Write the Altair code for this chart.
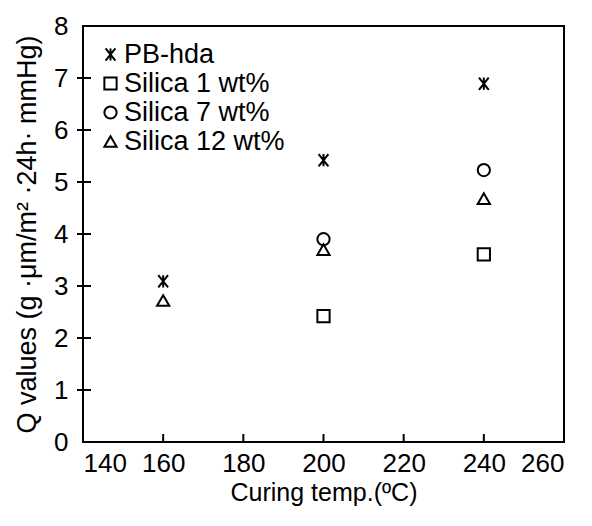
import altair as alt
import pandas as pd

series = ["PB-hda", "Silica 1 wt%", "Silica 7 wt%", "Silica 12 wt%"]
temps_pb = [160, 200, 240]
vals_pb = [3.09, 5.42, 6.89]
temps_s1 = [200, 240]
vals_s1 = [2.42, 3.61]
temps_s7 = [200, 240]
vals_s7 = [3.90, 5.23]
temps_s12 = [160, 200, 240]
vals_s12 = [2.72, 3.70, 4.68]

x_ticks = [140, 160, 180, 200, 220, 240, 260]
y_ticks = [0, 1, 2, 3, 4, 5, 6, 7, 8]

rows = []
for name, ts, vs in [
    (series[0], temps_pb, vals_pb),
    (series[1], temps_s1, vals_s1),
    (series[2], temps_s7, vals_s7),
    (series[3], temps_s12, vals_s12),
]:
    for t, v in zip(ts, vs):
        rows.append({"series": name, "temp": t, "q": v})
df = pd.DataFrame(rows)

star = "M-0.8,-1L0.8,1M-0.8,1L0.8,-1M0,-1L0,1"
shapes = [star, "square", "circle", "triangle-up"]

FONT = "Liberation Sans"
H = 416

xscale = alt.Scale(domain=[140, 260], nice=False, zero=False)
yscale = alt.Scale(domain=[0, 8], nice=False)

points = alt.Chart(df).mark_point(filled=False, color="black", strokeWidth=2, size=150, opacity=1).encode(
    x=alt.X("temp:Q", scale=xscale,
            axis=alt.Axis(title="Curing temp.(ºC)", values=x_ticks, ticks=False, domain=False, grid=False,
                          labelFontSize=26, labelPadding=8, titleFontSize=25, titlePadding=4,
                          titleFontWeight="normal", labelFont=FONT, titleFont=FONT,
                          labelColor="black", titleColor="black")),
    y=alt.Y("q:Q", scale=yscale,
            axis=alt.Axis(title="Q values (g ·μm/m² ·24h· mmHg)", values=y_ticks, ticks=False, domain=False,
                          grid=False, labelFontSize=26, labelPadding=15, titleFontSize=27, titlePadding=12,
                          titleFontWeight="normal", labelFont=FONT, titleFont=FONT,
                          labelColor="black", titleColor="black")),
    shape=alt.Shape("series:N", scale=alt.Scale(domain=series, range=shapes),
                    legend=alt.Legend(title=None, orient="none", legendX=14, legendY=15,
                                      labelFontSize=27, labelFont=FONT, labelColor="black", labelLimit=0,
                                      symbolSize=150, symbolStrokeWidth=2, symbolStrokeColor="black",
                                      symbolFillColor="transparent", symbolType="circle",
                                      rowPadding=1, labelOffset=0, padding=0)),
)

yt = pd.DataFrame({"v": y_ticks[1:-1]})
xt = pd.DataFrame({"t": x_ticks[1:-1]})

yticks = alt.Chart(yt).mark_tick(color="black", orient="horizontal", size=14, thickness=2, opacity=1).encode(
    y=alt.Y("v:Q", scale=yscale), x=alt.value(1)
)
xticks = alt.Chart(xt).mark_rule(stroke="black", strokeWidth=2).encode(
    x=alt.X("t:Q", scale=xscale), y=alt.value(H - 1), y2=alt.value(H - 8)
)

chart = alt.layer(yticks, xticks, points).properties(
    width=481, height=H,
    background="white",
).configure_view(stroke="black", strokeWidth=2)

chart.save("out.html", embed_options={"renderer": "svg", "actions": False})
